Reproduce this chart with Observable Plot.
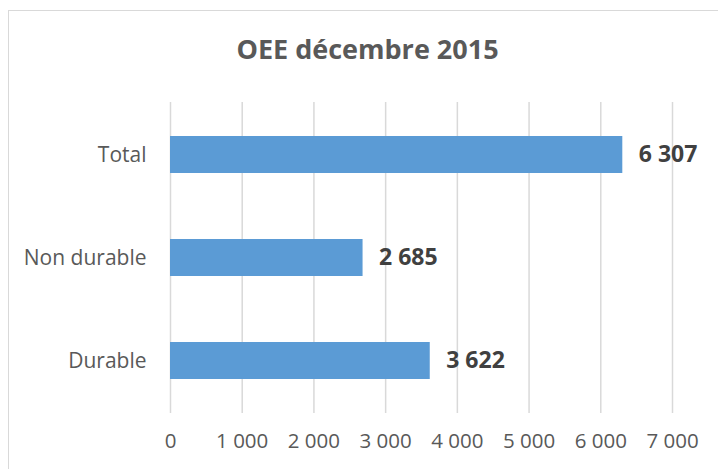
<!DOCTYPE html>
<html>
<head>
<meta charset="utf-8">
<script src="https://cdn.jsdelivr.net/npm/d3@7"></script>
<script src="https://cdn.jsdelivr.net/npm/@observablehq/plot@0.6"></script>
<style>
  html, body { margin: 0; padding: 0; background: #fff; overflow: hidden; width: 718px; height: 469px; }
  #frame { position: absolute; left: 8px; top: 10px; width: 900px; height: 700px; border: 1.5px solid #d9d9d9; box-sizing: border-box; }
  #chart { position: absolute; left: 0; top: 0; }
</style>
</head>
<body>
<div id="frame"></div>
<div id="chart"></div>
<script>
const title = "OEE décembre 2015";
const categories = ["Total", "Non durable", "Durable"];
const values = [6307, 2685, 3622];
const xTicks = [0, 1000, 2000, 3000, 4000, 5000, 6000, 7000];

const data = categories.map((c, i) => ({category: c, value: values[i]}));
const fmt = d3.formatLocale({thousands: " ", grouping: [3], decimal: ",", currency: ["", " €"]}).format(",d");
const font = "'Open Sans', sans-serif";

const plot = Plot.plot({
  width: 718,
  height: 469,
  marginLeft: 170,
  marginRight: 46,
  marginTop: 102,
  marginBottom: 56,
  style: {fontFamily: font, background: "transparent", overflow: "visible"},
  x: {domain: [0, 7000], ticks: xTicks, tickFormat: fmt, label: null},
  y: {domain: categories, paddingInner: 0.64, paddingOuter: 0.32, label: null},
  marks: [
    Plot.ruleX(xTicks, {stroke: "#d9d9d9", strokeWidth: 1.5}),
    Plot.barX(data, {x: "value", y: "category", fill: "#5b9bd5"}),
    Plot.text(data, {x: "value", y: "category", text: d => fmt(d.value), textAnchor: "start", dx: 16, fontSize: 23, fontWeight: "bold", fill: "#404040"}),
    Plot.axisX({ticks: xTicks, tickFormat: fmt, tickSize: 0, tickPadding: 20, fontSize: 20.5, fill: "#595959", label: null}),
    Plot.axisY({tickSize: 0, tickPadding: 24, fontSize: 21, fill: "#595959", label: null}),
    Plot.text([title], {frameAnchor: "top-left", dx: 197, dy: -52, lineAnchor: "middle", textAnchor: "middle", fontSize: 27, fontWeight: "bold", fill: "#595959"})
  ]
});
document.getElementById("chart").appendChild(plot);
</script>
</body>
</html>
